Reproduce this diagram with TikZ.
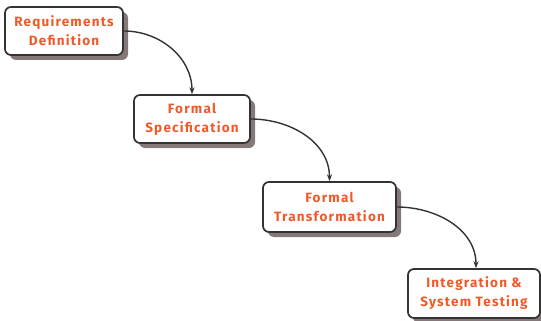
\documentclass[tikz,border=0pt]{standalone}
\usepackage{fontspec}
\setmainfont{Fira Sans}[LetterSpace=9]
\usepackage{tikz}
\usetikzlibrary{arrows.meta, positioning, shadows}

\definecolor{stagetext}{HTML}{F05A28}
\definecolor{stageline}{HTML}{333333}
\definecolor{stageshadow}{HTML}{857878}

\begin{document}
\begin{tikzpicture}[
    x=1pt, y=-1pt,
    every node/.style={font=\bfseries\fontsize{13.5}{19}\selectfont},
    stage/.style={draw=stageline, line width=1.7pt, fill=white, rounded corners=6pt,
        text=stagetext, align=center, inner sep=0pt,
        drop shadow={shadow xshift=5pt, shadow yshift=-5pt, fill=stageshadow, opacity=1}},
    flow/.style={-{Stealth[length=2.4mm, width=1.8mm]}, line width=1.4pt, stageline}
]

\useasboundingbox (0,0) rectangle (541,321);

% === NODES ===

\node[stage, minimum width=118pt, minimum height=48pt] (req) at (64,31) {Requirements\\Definition};
\node[stage, minimum width=116pt, minimum height=48pt] (spec) at (192,119) {Formal\\Specification};
\node[stage, minimum width=133pt, minimum height=50pt] (trans) at (329.5,207) {Formal\\Transformation};
\node[stage, minimum width=132pt, minimum height=49pt] (test) at (474,293.5) {Integration \&\\System Testing};

% === FLOW ===

\draw[flow] (req.east) to[out=0, in=90] (spec.north);
\draw[flow] (spec.east) to[out=0, in=90] (trans.north);
\draw[flow] (trans.east) to[out=0, in=90] ([xshift=2pt]test.north);

\end{tikzpicture}
\end{document}
